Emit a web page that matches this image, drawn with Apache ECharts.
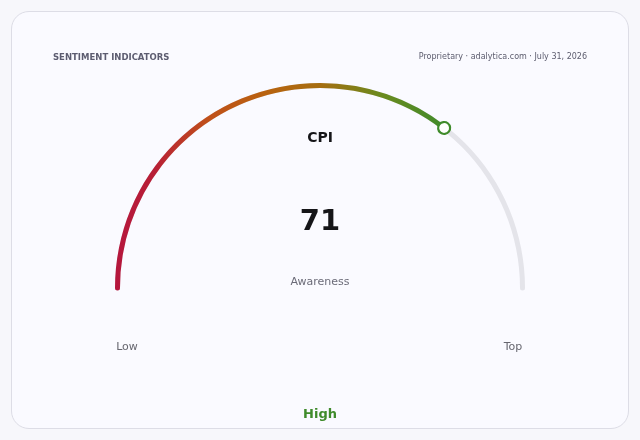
<!DOCTYPE html>
<html>
<head>
<meta charset="utf-8">
<script src="https://cdn.jsdelivr.net/npm/echarts@6/dist/echarts.min.js"></script>
<style>
  html, body { margin: 0; padding: 0; background: #f7f7fb; }
  #card {
    position: absolute; left: 11px; top: 11px; width: 616px; height: 416px;
    border: 1px solid #dddde6; border-radius: 18px; background: #fafaff;
  }
  #chart { position: absolute; left: 0; top: 0; width: 640px; height: 440px; }
</style>
</head>
<body>
<div id="card"></div>
<div id="chart"></div>
<script>
var indicator = 'CPI',
    metricName = 'Awareness',
    values = [71],
    scaleMin = 0,
    scaleMax = 100,
    endLabels = ['Low', 'Top'],
    bandLabel = 'High';

(function () {
    var myChart = echarts.init(document.getElementById('chart'));
    var font = 'DejaVu Sans',
        green = '#3f8b2b',
        center = [320, 288],
        radius = 205;

    var option = {
        backgroundColor: 'transparent',
        graphic: [
            {type: 'text', left: 53, top: 53, style: {text: 'SENTIMENT INDICATORS', fontFamily: font, fontSize: 8.5, fontWeight: 'bold', fill: '#5c5c70'}},
            {type: 'text', right: 53, top: 53, style: {text: 'Proprietary · adalytica.com · July 31, 2026', fontFamily: font, fontSize: 8, fill: '#5c5c6e'}},
            {type: 'text', x: 320, y: 138, style: {text: indicator, align: 'center', verticalAlign: 'middle', fontFamily: font, fontSize: 14, fontWeight: 'bold', fill: '#151518'}},
            {type: 'text', x: 127, y: 347, style: {text: endLabels[0], align: 'center', verticalAlign: 'middle', fontFamily: font, fontSize: 11, fill: '#66666f'}},
            {type: 'text', x: 513, y: 347, style: {text: endLabels[1], align: 'center', verticalAlign: 'middle', fontFamily: font, fontSize: 11, fill: '#66666f'}},
            {type: 'text', x: 320, y: 415, style: {text: bandLabel, align: 'center', verticalAlign: 'middle', fontFamily: font, fontSize: 13, fontWeight: 'bold', fill: green}}
        ],
        series: [{
            // track + coloured progress + texts
            type: 'gauge',
            z: 2,
            center: center,
            radius: radius,
            startAngle: 180,
            endAngle: 0,
            min: scaleMin,
            max: scaleMax,
            animation: false,
            axisLine: {
                roundCap: true,
                lineStyle: {width: 5, color: [[1, '#e4e4ea']]}
            },
            progress: {
                show: true,
                roundCap: true,
                width: 5,
                itemStyle: {
                    color: new echarts.graphic.LinearGradient(0, 0, 1, 0, [
                        {offset: 0, color: '#b5163d'},
                        {offset: 0.12, color: '#b81f36'},
                        {offset: 0.28, color: '#c0501a'},
                        {offset: 0.45, color: '#b9620f'},
                        {offset: 0.62, color: '#a56d10'},
                        {offset: 0.8, color: '#6b8a1e'},
                        {offset: 1, color: green}
                    ])
                }
            },
            pointer: {show: false},
            anchor: {show: false},
            axisTick: {show: false},
            splitLine: {show: false},
            axisLabel: {show: false},
            title: {
                offsetCenter: [0, -6],
                fontFamily: font,
                fontSize: 11,
                color: '#6b6b78'
            },
            detail: {
                offsetCenter: [0, -66],
                fontFamily: font,
                fontSize: 29,
                fontWeight: 'bold',
                color: '#151518',
                formatter: '{value}'
            },
            data: [{value: values[0], name: metricName}]
        }, {
            // end marker drawn above the progress arc
            type: 'gauge',
            z: 5,
            center: center,
            radius: radius,
            startAngle: 180,
            endAngle: 0,
            min: scaleMin,
            max: scaleMax,
            animation: false,
            axisLine: {show: false},
            progress: {show: false},
            pointer: {
                show: true,
                icon: 'circle',
                width: 12,
                length: 12,
                offsetCenter: [0, -196.5],
                itemStyle: {color: '#ffffff', borderColor: green, borderWidth: 2.2}
            },
            anchor: {show: false},
            axisTick: {show: false},
            splitLine: {show: false},
            axisLabel: {show: false},
            title: {show: false},
            detail: {show: false},
            data: [{value: values[0], name: metricName}]
        }]
    };

    myChart.setOption(option);
})();
</script>
</body>
</html>
